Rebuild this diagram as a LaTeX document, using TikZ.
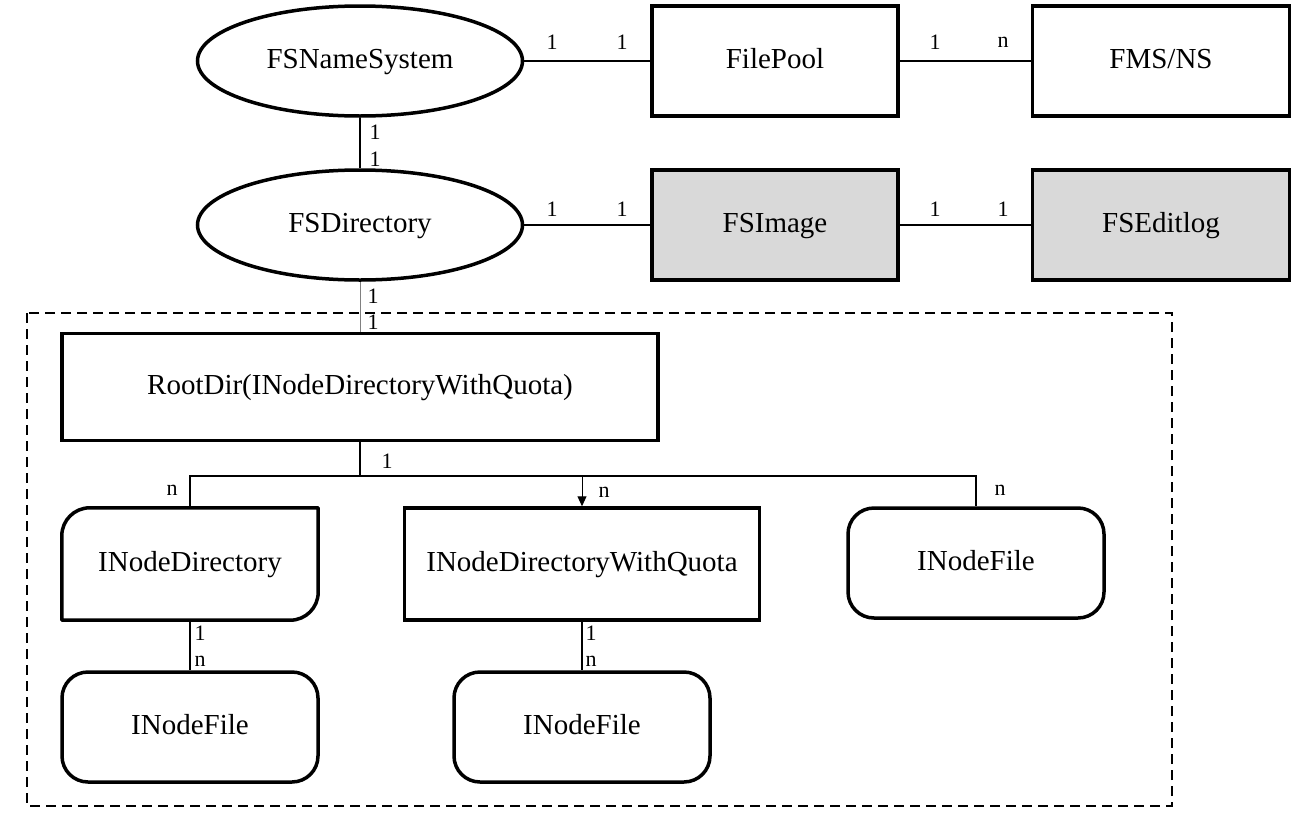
\documentclass[tikz,border=0pt]{standalone}
\usepackage{fontspec}
\setmainfont{Liberation Serif}
\usetikzlibrary{shapes.geometric,arrows.meta,calc}
\begin{document}
\begin{tikzpicture}[x=1pt,y=-1pt,
  txt/.style={font=\fontsize{29}{34}\selectfont,text height=21pt,text depth=6pt},
  ent/.style={txt,draw,line width=3.5pt,inner sep=0pt},
  ellbox/.style={ent,ellipse,minimum width=325pt,minimum height=110pt},
  rectbox/.style={ent,rectangle,minimum width=#1,minimum height=110pt},
  roundbox/.style={ent,rectangle,rounded corners=26pt,minimum width=256pt,minimum height=110pt},
  plainbox/.style={txt,inner sep=0pt,minimum width=256pt,minimum height=112pt},
  shade/.style={fill=boxgray},
  conn/.style={line width=2pt},
  thinconn/.style={line width=1pt},
  lab/.style={font=\fontsize{22}{25}\selectfont,inner sep=1pt},
  wlab/.style={lab,fill=white},
  frame/.style={line width=1.5pt,dash pattern=on 10pt off 6pt}
]
\definecolor{boxgray}{RGB}{217,217,217}
\useasboundingbox (0,0) rectangle (1302,833);

% dashed frame
\draw[frame] (27,313) rectangle (1172,806);

% top rows
\node[ellbox] (ns) at (360,61) {FSNameSystem};
\node[rectbox=246pt] (fp) at (775,61) {FilePool};
\node[rectbox=257pt] (fms) at (1161,61) {FMS/NS};
\node[ellbox] (fsd) at (360,225) {FSDirectory};
\node[rectbox=246pt,shade] (img) at (775,225) {FSImage};
\node[rectbox=257pt,shade] (edit) at (1161,225) {FSEditlog};

% inner part
\node[rectbox=596pt,minimum height=107pt] (root) at (360,387) {RootDir(INodeDirectoryWithQuota)};
\node[plainbox] (ndir) at (190,564) {INodeDirectory};
\node[rectbox=355pt,minimum height=112pt] (quota) at (582,564) {INodeDirectoryWithQuota};
\node[roundbox] (nfr) at (976,563) {INodeFile};
\node[roundbox] (nf1) at (190,727) {INodeFile};
\node[roundbox] (nf2) at (582,727) {INodeFile};

% INodeDirectory outline: rounded top-left and bottom-right
\draw[line width=3.5pt,line join=round]
  (ndir.south west) -- ($(ndir.north west)+(0,28)$)
  .. controls ($(ndir.north west)+(0,12.5)$) and ($(ndir.north west)+(12.5,0)$) .. ($(ndir.north west)+(28,0)$)
  -- (ndir.north east) -- ($(ndir.south east)+(0,-28)$)
  .. controls ($(ndir.south east)+(0,-12.5)$) and ($(ndir.south east)+(-12.5,0)$) .. ($(ndir.south east)+(-28,0)$)
  -- cycle;

% horizontal connectors
\draw[conn] (ns.east) -- (fp.west);
\draw[conn] (fp.east) -- (fms.west);
\draw[conn] (fsd.east) -- (img.west);
\draw[conn] (img.east) -- (edit.west);
\node[lab] (l1) at (552,42) {1};
\node[lab] (l2) at (622,42) {1};
\node[lab] (l3) at (935,42) {1};
\node[lab] (l4) at (1003,42) {n};
\node[lab] (l5) at (552,209) {1};
\node[lab] (l6) at (622,209) {1};
\node[lab] (l7) at (935,209) {1};
\node[lab] (l8) at (1003,209) {1};

% vertical connectors
\draw[conn] (ns.south) -- (fsd.north);
\node[lab] (l9) at (375,132) {1};
\node[wlab] (l10) at (375,159) {1};
\draw[thinconn,gray] (fsd.south) -- (root.north);
\node[lab] (l11) at (373,296) {1};
\node[wlab] (l12) at (373,322) {1};

% bus from RootDir
\coordinate (bus) at (360,476);
\draw[conn] (root.south) -- (bus);
\draw[conn] (ndir.north) |- (bus) -| (nfr.north);
\draw[thinconn,-{Triangle[length=10pt,width=9pt]}] (bus -| quota.north) -- (quota.north);
\node[lab] (l13) at (387,461) {1};
\node[lab] (l14) at (172,490) {n};
\node[lab] (l15) at (604,492) {n};
\node[lab] (l16) at (1000,490) {n};

% lower connectors
\draw[conn] (ndir.south) -- (nf1.north);
\node[lab] (l17) at (200,633) {1};
\node[wlab] (l18) at (200,661) {n};
\draw[conn] (quota.south) -- (nf2.north);
\node[lab] (l19) at (591,633) {1};
\node[wlab] (l20) at (591,661) {n};
\end{tikzpicture}
\end{document}
